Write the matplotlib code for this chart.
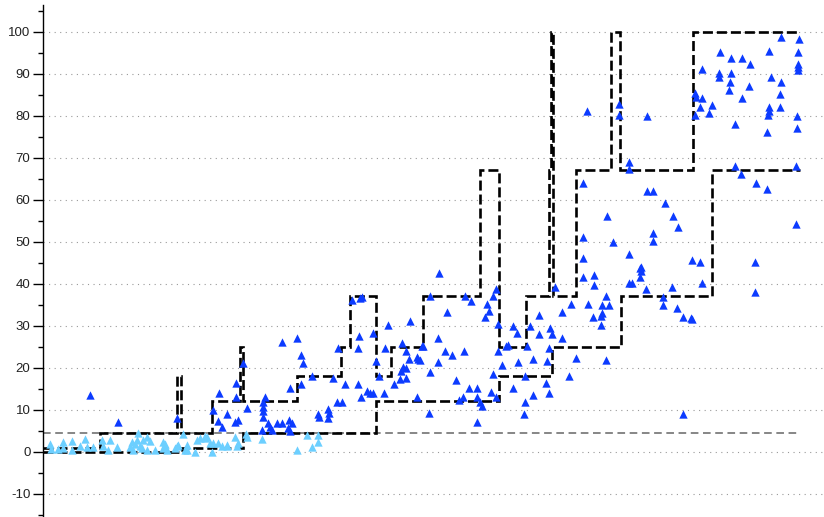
import numpy as np
import matplotlib
matplotlib.use("Agg")
import matplotlib.pyplot as plt
from matplotlib.ticker import MultipleLocator

plt.rcParams['axes.unicode_minus'] = False

# step bounds (upper / lower envelopes)
upper_edges = [43, 100, 177, 181, 212, 240, 243, 297, 341, 350, 376, 391, 423,
               480, 499, 526, 549, 551, 553, 576, 611, 620, 693, 800]
upper_vals = [1, 4.5, 18, 4.5, 12, 25, 12, 18, 25, 37, 18, 25, 37,
              67, 25, 37, 67, 100, 37, 67, 100, 67, 100]
lower_edges = [43, 182, 243, 376, 499, 552, 621, 712, 800]
lower_vals = [0, 1, 4.5, 12, 18, 25, 37, 67]
threshold = 4.5

# light blue points (low group)
low_x = [50, 51, 63, 63, 72, 72, 85, 87, 93, 102, 103, 110, 108, 117, 130, 132,
         133, 137, 138, 140, 143, 147, 147, 155, 163, 165, 167, 177, 183, 187,
         185, 195, 197, 205, 207, 213, 212, 222, 227, 235, 237, 165, 163, 175,
         178, 187, 200, 205, 210, 218, 227, 247, 238, 246, 262, 297, 307, 312,
         318, 318, 135, 142, 150, 58, 80]
low_y = [1.9, 0.8, 2.4, 1.0, 2.6, 0.5, 3.1, 1.2, 1.2, 2.9, 1.4, 2.9, 0.5, 1.2, 1.2, 2.4,
         0.5, 2.9, 4.5, 1.4, 2.9, 3.6, 0.5, 0.5, 2.4, 1.4, 0.5, 1.4, 4.3, 1.7,
         0.5, 0.0, 2.9, 3.3, 3.6, 2.1, 0.0, 1.4, 1.4, 3.6, 1.4, 1.9, 1.0, 1.0,
         1.7, 0.5, 3.3, 3.8, 2.1, 2.1, 1.7, 3.6, 2.1, 4.3, 3.1, 0.5, 4.0, 1.2,
         4.0, 2.4, 1.9, 1.0, 2.6, 0.8, 1.4]

# blue points (high group)
high_x = [90, 118, 177, 213, 219, 218, 227, 222, 235, 238, 236, 236, 243, 247,
          265, 263, 263, 263, 263, 262, 268, 270, 272, 277, 282, 289, 292, 288, 290,
          282, 297, 301, 303, 290, 301, 312, 318, 319, 328, 329, 328, 333, 338, 337,
          342, 345, 352, 360, 362, 359, 358, 358, 361, 367, 370, 373, 373, 376, 379,
          384, 385, 388, 394, 400, 401, 403, 406, 406, 402, 406, 410, 409, 417, 418,
          422, 417, 429,
          439, 430, 423, 420, 447, 438, 438, 430, 445, 452, 464, 456, 465, 471, 459,
          463, 469, 477, 477, 480, 482, 477, 491, 496, 493, 487, 489, 485, 493, 496,
          498, 498, 502, 506, 508, 513, 517, 513, 518, 525, 525, 524, 527, 530, 533,
          533, 539, 539, 547, 546, 549, 549, 550, 552, 555, 562, 562, 569, 571, 576,
          583, 583, 583, 583, 587, 588, 594, 594, 593, 602, 602, 601, 601, 606, 609,
          606, 607, 613, 619, 619, 629, 629, 629, 629, 632, 640, 640,
          647, 647, 653, 665, 673, 678, 653, 653, 641, 641, 646, 672, 663, 663, 677,
          683, 691, 692, 692, 700, 702, 683, 755, 755, 796, 735, 741, 756, 767, 796,
          781, 799, 769, 720, 731, 742, 750, 798, 798, 798, 798, 702, 719, 719, 731,
          730, 729, 749, 742, 771, 781, 780, 780, 769, 769, 768, 695, 696, 702, 700,
          712, 709, 695, 735, 767, 797, 797]
high_y = [13.6, 7.1, 8.1, 10.0, 14.0, 7.4, 9.0, 6.0, 7.1, 7.6, 16.4, 13.1, 21.2, 10.5,
          13.1, 11.9, 10.7, 9.8, 8.3, 5.2, 6.9, 6.0, 5.2, 6.9, 6.9, 7.6, 6.9, 5.7, 5.0,
          26.2, 27.1, 23.1, 21.2, 15.2, 16.2, 18.1, 9.0, 8.3, 10.2, 9.3, 8.1, 17.6, 24.8, 11.9,
          11.9, 16.2, 36.2, 36.7, 36.9, 27.6, 24.8, 16.2, 13.1, 14.5, 14.0, 14.0, 28.3, 21.7, 18.1,
          14.0, 24.8, 30.2, 16.2, 17.4, 19.3, 20.2, 20.0, 17.6, 26.0, 24.0, 31.2, 22.1, 22.6, 22.1,
          25.2, 13.1, 9.3,
          42.6, 37.1, 25.2, 21.9, 33.3, 27.1, 21.4, 19.0, 24.0, 23.1, 24.0, 17.1, 37.1, 36.0, 12.4,
          13.1, 15.2, 15.2, 13.1, 11.9, 11.0, 7.1, 14.3, 13.1, 18.6, 35.2, 33.6, 32.1, 37.1, 38.8,
          30.5, 24.0, 20.7, 25.2, 25.5, 30.0, 28.3, 15.2, 21.4, 18.1, 11.9, 9.0, 25.2, 30.0, 22.1,
          13.6, 32.6, 28.1, 21.7, 16.4, 14.0, 24.8, 29.5, 28.1, 39.3, 27.1, 33.3, 18.1, 35.2, 22.4,
          64.0, 51.2, 46.2, 41.7, 81.2, 35.2, 42.1, 39.8, 32.1, 35.0, 33.1, 32.4, 30.2, 37.1, 35.0,
          21.9, 56.2, 50.0, 82.9, 80.2, 69.0, 67.4, 47.1, 40.2, 40.2, 43.8, 41.7,
          80.0, 62.1, 62.1, 59.3, 56.2, 53.6, 52.1, 50.2, 44.0, 43.1, 38.8, 39.3, 36.9, 35.0, 34.3,
          32.1, 31.9, 31.7, 45.7, 45.2, 40.2, 9.0, 45.2, 38.1, 54.3, 68.1, 66.2, 64.0, 62.6, 68.1,
          98.8, 98.3, 95.5, 95.2, 93.8, 93.8, 92.4, 95.2, 92.4, 91.7, 91.0, 91.2, 90.2, 89.3, 90.2,
          88.1, 86.2, 87.1, 84.3, 89.3, 88.1, 85.2, 82.1, 82.1, 81.2, 80.2, 85.5, 84.5, 84.3, 82.1,
          82.6, 80.7, 80.2, 78.1, 76.2, 80.0, 77.1]

fig = plt.figure(figsize=(8.24, 5.17), dpi=100)
ax = fig.add_axes([43 / 824, 0, 781 / 824, 512 / 517])

ax.yaxis.grid(True, which='major', color='#999999', ls=(0, (1, 4)), lw=0.8, zorder=0)

ax.hlines(threshold, min(upper_edges), max(upper_edges), colors='#666666',
          linestyles=(0, (5, 3)), lw=1.1, zorder=2)
ax.stairs(upper_vals, upper_edges, baseline=None, color='black',
          ls=(0, (3.8, 1.5)), lw=1.9, zorder=2)
ax.stairs(lower_vals, lower_edges, baseline=None, color='black',
          ls=(0, (3.8, 1.5)), lw=1.9, zorder=2)

ax.scatter(low_x, low_y, marker='^', s=36, color='#6ccfff', linewidths=0, zorder=3)
ax.scatter(high_x, high_y, marker='^', s=36, color='#0c3bff', linewidths=0, zorder=3)

ax.set_xlim(43, 824)
ax.set_ylim(-15.5, 106.4)
ax.yaxis.set_major_locator(MultipleLocator(10))
ax.yaxis.set_minor_locator(MultipleLocator(5))
ax.tick_params(axis='y', which='major', length=7, width=1, labelsize=9.5,
               labelcolor='#222222', pad=2)
ax.tick_params(axis='y', which='minor', length=3.5, width=1)
for lab in ax.get_yticklabels():
    lab.set_family(['Liberation Sans', 'DejaVu Sans'])
ax.set_xticks([])
for side in ['top', 'right', 'bottom']:
    ax.spines[side].set_visible(False)
ax.spines['left'].set_linewidth(1)

fig.savefig('out.png', dpi=100)
